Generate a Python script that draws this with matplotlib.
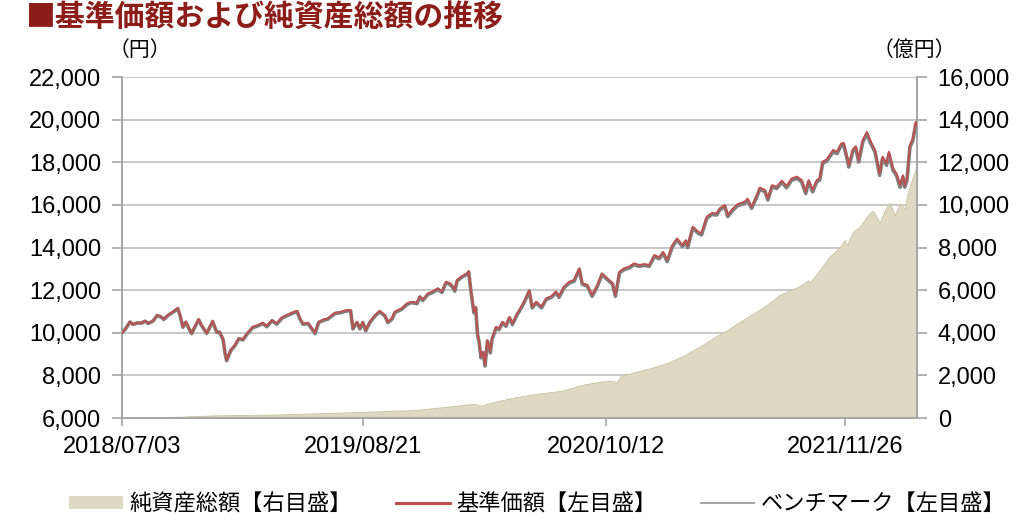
import matplotlib
matplotlib.use("Agg")
import matplotlib.pyplot as plt
import matplotlib.dates as mdates
from matplotlib.lines import Line2D
from matplotlib.patches import Patch
from matplotlib.ticker import FuncFormatter
import pandas as pd

plt.rcParams["font.family"] = ["Liberation Sans", "Noto Sans CJK JP"]

# --- data ---
line_dates = [
    # 2018
    "2018-07-03", "2018-07-09", "2018-07-17", "2018-07-22", "2018-07-29",
    "2018-08-06", "2018-08-12", "2018-08-17", "2018-08-25",
    "2018-09-02", "2018-09-09", "2018-09-13", "2018-09-20", "2018-09-29",
    "2018-10-07", "2018-10-11", "2018-10-16", "2018-10-21", "2018-10-28", "2018-10-31",
    "2018-11-05", "2018-11-12", "2018-11-17", "2018-11-26",
    "2018-12-01", "2018-12-06", "2018-12-13", "2018-12-18", "2018-12-24", "2018-12-27", "2018-12-30",
    # 2019
    "2019-01-06", "2019-01-13", "2019-01-20", "2019-01-27",
    "2019-02-04", "2019-02-13", "2019-02-22",
    "2019-03-02", "2019-03-09", "2019-03-18", "2019-03-26",
    "2019-04-04", "2019-04-12", "2019-04-21", "2019-04-30",
    "2019-05-05", "2019-05-10", "2019-05-19", "2019-05-31",
    "2019-06-06", "2019-06-15", "2019-06-22",
    "2019-07-04", "2019-07-15", "2019-07-25", "2019-07-31",
    "2019-08-04", "2019-08-11", "2019-08-16", "2019-08-21", "2019-08-26",
    "2019-09-02", "2019-09-11", "2019-09-19", "2019-09-28",
    "2019-10-03", "2019-10-10", "2019-10-15", "2019-10-27",
    "2019-11-05", "2019-11-13", "2019-11-22", "2019-11-27",
    "2019-12-02", "2019-12-11", "2019-12-19", "2019-12-28",
    # 2020
    "2020-01-04", "2020-01-11", "2020-01-18", "2020-01-23", "2020-01-26", "2020-01-30",
    "2020-02-07", "2020-02-16", "2020-02-19", "2020-02-23", "2020-02-26", "2020-02-28",
    "2020-03-02", "2020-03-05", "2020-03-08", "2020-03-11", "2020-03-15", "2020-03-18",
    "2020-03-22", "2020-03-27", "2020-03-30",
    "2020-04-06", "2020-04-11", "2020-04-17", "2020-04-23", "2020-04-29",
    "2020-05-04", "2020-05-12", "2020-05-16", "2020-05-24",
    "2020-06-02", "2020-06-07", "2020-06-14", "2020-06-23",
    "2020-07-01", "2020-07-10", "2020-07-18", "2020-07-23",
    "2020-08-01", "2020-08-10", "2020-08-18", "2020-08-27",
    "2020-09-01", "2020-09-10", "2020-09-18", "2020-09-27",
    "2020-10-05", "2020-10-14", "2020-10-23", "2020-10-28",
    "2020-11-04", "2020-11-12", "2020-11-21", "2020-11-29",
    "2020-12-08", "2020-12-17", "2020-12-25",
    # 2021
    "2021-01-03", "2021-01-11", "2021-01-18", "2021-01-25",
    "2021-02-03", "2021-02-11", "2021-02-20", "2021-02-26",
    "2021-03-01", "2021-03-10", "2021-03-19", "2021-03-25",
    "2021-04-03", "2021-04-12", "2021-04-20", "2021-04-25",
    "2021-05-04", "2021-05-09", "2021-05-18", "2021-05-26",
    "2021-06-07", "2021-06-12", "2021-06-19", "2021-06-28",
    "2021-07-03", "2021-07-12", "2021-07-17", "2021-07-24",
    "2021-08-01", "2021-08-10", "2021-08-18", "2021-08-27",
    "2021-09-05", "2021-09-13", "2021-09-20", "2021-09-25",
    "2021-10-02", "2021-10-09", "2021-10-14", "2021-10-19", "2021-10-26",
    "2021-11-06", "2021-11-13", "2021-11-20", "2021-11-24", "2021-11-30",
    "2021-12-03", "2021-12-10", "2021-12-15", "2021-12-20", "2021-12-27",
    # 2022
    "2022-01-03", "2022-01-10", "2022-01-17", "2022-01-25", "2022-01-30",
    "2022-02-06", "2022-02-10", "2022-02-17", "2022-02-23",
    "2022-03-01", "2022-03-06", "2022-03-09", "2022-03-13", "2022-03-18",
    "2022-03-23", "2022-03-28", "2022-03-30",
]

nav = [  # 基準価額 (円)
    10000, 10180, 10520, 10400, 10470,
    10470, 10560, 10450, 10560,
    10830, 10750, 10640, 10830, 10990,
    11160, 10830, 10280, 10520, 10130, 9990,
    10280, 10640, 10360, 10000,
    10280, 10560, 10050, 10050, 9700, 9110, 8720,
    9190, 9420, 9750, 9700,
    10000, 10280, 10360,
    10470, 10320, 10600, 10440,
    10720, 10830, 10940, 11030,
    10690, 10440, 10470, 10000,
    10520, 10630, 10680,
    10940, 10990, 11070, 11070,
    10220, 10520, 10220, 10520, 10130,
    10520, 10830, 11030, 10830,
    10520, 10680, 10990, 11150,
    11380, 11460, 11410, 11720,
    11560, 11850, 11940, 12090,
    11940, 12400, 12320, 12160, 12000, 12480,
    12660, 12790, 12900, 11940, 11380, 10990,
    11220, 9980, 9580, 8880, 9110, 8490,
    9660, 9110, 9740,
    10280, 10200, 10520, 10360, 10750,
    10440, 10900, 11070, 11460,
    12000, 11220, 11460, 11220,
    11620, 11720, 11940, 11720,
    12180, 12400, 12480, 13030,
    12340, 12240, 11770, 12240,
    12790, 12560, 12340, 11770,
    12870, 13030, 13110, 13260,
    13180, 13230, 13180,
    13650, 13540, 13800, 13410,
    14120, 14430, 14120, 14350,
    14070, 14980, 14750, 14670,
    15450, 15630, 15600, 15840,
    16000, 15530, 15840, 16040,
    16150, 16300, 15920, 16460,
    16820, 16700, 16310, 16930,
    16850, 17140, 16890, 17250,
    17330, 17170, 16620, 17170,
    16700, 17170, 17250, 18030, 18140,
    18580, 18500, 18890, 18920, 18270,
    17870, 18610, 18760, 18100, 19040,
    19430, 18960, 18580, 17480, 18270,
    17950, 18500, 17720, 17480,
    16930, 17400, 16930, 17250, 18810,
    19120, 19900, 19750,
]

benchmark = [  # ベンチマーク (円)
    10000, 10170, 10505, 10390, 10455,
    10455, 10545, 10435, 10540,
    10810, 10730, 10620, 10810, 10965,
    11135, 10805, 10255, 10495, 10100, 9960,
    10250, 10610, 10330, 9970,
    10250, 10530, 10020, 10020, 9670, 9080, 8690,
    9160, 9385, 9715, 9665,
    9965, 10245, 10325,
    10435, 10285, 10565, 10405,
    10680, 10790, 10900, 10990,
    10650, 10400, 10430, 9960,
    10480, 10590, 10640,
    10900, 10950, 11030, 11030,
    10180, 10480, 10180, 10480, 10090,
    10480, 10785, 10985, 10785,
    10475, 10635, 10945, 11105,
    11335, 11415, 11365, 11675,
    11515, 11800, 11890, 12040,
    11890, 12350, 12270, 12110, 11950, 12430,
    12605, 12735, 12845, 11885, 11325, 10935,
    11165, 9925, 9525, 8825, 9055, 8440,
    9605, 9055, 9685,
    10225, 10145, 10465, 10305, 10695,
    10385, 10845, 11015, 11405,
    11945, 11165, 11405, 11165,
    11560, 11660, 11880, 11660,
    12120, 12340, 12420, 12970,
    12280, 12180, 11710, 12180,
    12730, 12500, 12280, 11710,
    12805, 12965, 13045, 13195,
    13115, 13165, 13115,
    13580, 13470, 13730, 13340,
    14050, 14360, 14050, 14275,
    13995, 14905, 14675, 14595,
    15375, 15555, 15525, 15760,
    15920, 15450, 15760, 15960,
    16070, 16220, 15840, 16380,
    16740, 16620, 16230, 16850,
    16770, 17055, 16805, 17165,
    17245, 17085, 16535, 17085,
    16615, 17085, 17165, 17945, 18055,
    18490, 18410, 18800, 18830, 18180,
    17780, 18520, 18670, 18010, 18950,
    19335, 18865, 18485, 17385, 18175,
    17855, 18400, 17620, 17380,
    16830, 17300, 16830, 17150, 18705,
    19015, 19795, 19645,
]

asset_dates = [
    "2018-07-03", "2018-09-06", "2018-12-10", "2019-04-04", "2019-07-26",
    "2019-11-18", "2020-01-14", "2020-02-17", "2020-02-29", "2020-03-12",
    "2020-04-04", "2020-05-08", "2020-06-12", "2020-07-28", "2020-08-31",
    "2020-10-01", "2020-10-24", "2020-10-30", "2020-11-05", "2020-11-27",
    "2020-12-26", "2021-01-24", "2021-02-21", "2021-03-22", "2021-04-20",
    "2021-05-07", "2021-05-30", "2021-06-21", "2021-07-15", "2021-08-06",
    "2021-08-24", "2021-09-10", "2021-09-24", "2021-09-27", "2021-10-14",
    "2021-10-31", "2021-11-18", "2021-11-26", "2021-11-30", "2021-12-10",
    "2021-12-22", "2022-01-03", "2022-01-12", "2022-01-17", "2022-01-25",
    "2022-02-03", "2022-02-11", "2022-02-20", "2022-03-01", "2022-03-09",
    "2022-03-14", "2022-03-21", "2022-03-30",
]
net_assets = [  # 純資産総額 (億円)
    10, 30, 125, 170, 265,
    375, 530, 640, 660, 580,
    765, 970, 1125, 1280, 1550,
    1700, 1750, 1660, 1940, 2130,
    2330, 2570, 2910, 3350, 3850,
    4100, 4520, 4880, 5300, 5770,
    6000, 6190, 6470, 6350, 6940,
    7570, 8040, 8350, 8120, 8740,
    8980, 9450, 9730, 9600, 9160,
    9760, 10100, 9520, 10070, 9830,
    10540, 11170, 11800,
]

tick_dates = ["2018-07-03", "2019-08-21", "2020-10-12", "2021-11-26"]

x_line = pd.to_datetime(line_dates)
x_area = pd.to_datetime(asset_dates)
x_ticks = pd.to_datetime(tick_dates)

RED = "#C0504D"
GRAY = "#7F7F7F"
TAN = "#DDD9C3"
GRID = "#BFBFBF"
SPINE = "#A6A6A6"

fig = plt.figure(figsize=(10.24, 5.28), dpi=100)
ax2 = fig.add_axes([0.119, 0.2083, 0.7764, 0.6458])   # right axis, area + grid
ax = ax2.twinx()                                       # left axis, lines
ax.yaxis.tick_left()
ax.yaxis.set_label_position("left")
ax2.yaxis.tick_right()
ax2.yaxis.set_label_position("right")
ax.set_zorder(ax2.get_zorder() + 1)
ax.patch.set_visible(False)

ax2.fill_between(x_area, net_assets, 0, color=TAN, ec="#C8C2A2", lw=0.6, zorder=2)
ax2.set_ylim(0, 16000)
ax2.set_yticks(range(0, 16001, 2000))
ax2.grid(axis="y", color=GRID, lw=1.2, zorder=0)
ax2.set_axisbelow(True)

ax.plot(x_line, benchmark, color=GRAY, lw=2.6, zorder=3)
ax.plot(x_line, nav, color=RED, lw=1.3, zorder=4)
ax.set_ylim(6000, 22000)
ax.set_yticks(range(6000, 22001, 2000))

ax2.set_xlim(x_line[0], x_line[-1])
ax2.set_xticks(x_ticks)
ax2.xaxis.set_major_formatter(mdates.DateFormatter("%Y/%m/%d"))

fmt = FuncFormatter(lambda v, _: f"{v:,.0f}")
ax.yaxis.set_major_formatter(fmt)
ax2.yaxis.set_major_formatter(fmt)

for a in (ax, ax2):
    a.spines["top"].set_visible(False)
    for side in ("left", "right", "bottom"):
        a.spines[side].set_color(SPINE)
        a.spines[side].set_linewidth(1.2)
    a.tick_params(axis="both", colors=SPINE, labelcolor="black",
                  labelsize=17, length=7, width=1.2)
ax.tick_params(axis="y", pad=8)
ax2.tick_params(axis="y", pad=8)
ax2.tick_params(axis="x", pad=7, length=6)

# title and unit labels
fig.text(25 / 1024, 1 - 17 / 528, "■基準価額および純資産総額の推移", fontsize=21.5,
         fontweight="bold", color="#8C1D18", ha="left", va="center",
         family=["Noto Sans CJK JP", "DejaVu Sans"])
fig.text(140 / 1024, 1 - 50 / 528, "（円）", fontsize=15, ha="center", va="center")
fig.text(914 / 1024, 1 - 50 / 528, "（億円）", fontsize=15, ha="center", va="center")

handles = [
    Patch(facecolor=TAN, edgecolor="none"),
    Line2D([], [], color=RED, lw=2.2),
    Line2D([], [], color="#A6A6A6", lw=1.4),
]
labels = ["純資産総額【右目盛】", "基準価額【左目盛】", "ベンチマーク【左目盛】"]
fig.legend(handles, labels, loc="center", bbox_to_anchor=(0.525, 0.044), ncol=3,
           frameon=False, fontsize=16, handlelength=2.4, handleheight=0.5,
           handletextpad=0.3, columnspacing=2.0)

fig.savefig("out.png", dpi=100)
